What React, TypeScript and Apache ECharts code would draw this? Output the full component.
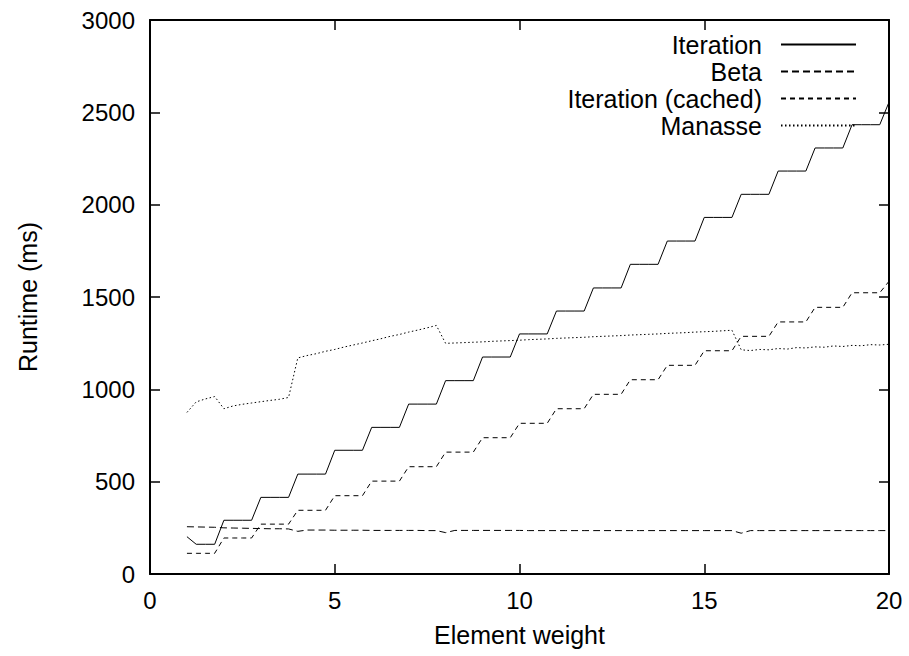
import React, { useEffect, useRef } from "react";
import * as echarts from "echarts";

const weights = [
  1, 1.25, 1.5, 1.75, 2, 2.25, 2.5, 2.75, 3, 3.25, 3.5, 3.75,
  4, 4.25, 4.5, 4.75, 5, 5.25, 5.5, 5.75, 6, 6.25, 6.5, 6.75,
  7, 7.25, 7.5, 7.75, 8, 8.25, 8.5, 8.75, 9, 9.25, 9.5, 9.75,
  10, 10.25, 10.5, 10.75, 11, 11.25, 11.5, 11.75, 12, 12.25, 12.5, 12.75,
  13, 13.25, 13.5, 13.75, 14, 14.25, 14.5, 14.75, 15, 15.25, 15.5, 15.75,
  16, 16.25, 16.5, 16.75, 17, 17.25, 17.5, 17.75, 18, 18.25, 18.5, 18.75,
  19, 19.25, 19.5, 19.75, 20,
];

const iteration = [
  202, 161, 161, 161, 291, 291, 291, 291, 415, 415, 415, 415,
  541, 541, 541, 541, 670, 670, 670, 670, 794, 794, 794, 794,
  920, 920, 920, 920, 1047, 1047, 1047, 1047, 1175, 1175, 1175, 1175,
  1300, 1300, 1300, 1300, 1424, 1424, 1424, 1424, 1549, 1549, 1549, 1549,
  1677, 1677, 1677, 1677, 1803, 1803, 1803, 1803, 1931, 1931, 1931, 1931,
  2056, 2056, 2056, 2056, 2182, 2182, 2182, 2182, 2307, 2307, 2307, 2307,
  2433, 2433, 2433, 2433, 2555,
];

const beta = [
  256, 255, 254, 253, 250, 249, 248, 247, 246, 245, 245, 244,
  231, 238, 238, 238, 237, 237, 237, 237, 236, 236, 236, 236,
  236, 236, 235, 235, 224, 236, 236, 236, 236, 236, 236, 236,
  236, 235, 235, 235, 235, 235, 235, 235, 235, 235, 235, 235,
  235, 235, 235, 235, 235, 235, 235, 235, 235, 235, 235, 235,
  221, 235, 235, 235, 235, 235, 235, 235, 235, 235, 235, 235,
  235, 235, 235, 235, 235,
];

const iterationCached = [
  112, 112, 112, 112, 195, 195, 195, 195, 270, 270, 270, 270,
  345, 345, 345, 345, 424, 424, 424, 424, 503, 503, 503, 503,
  581, 581, 581, 581, 660, 660, 660, 660, 738, 738, 738, 738,
  816, 816, 816, 816, 895, 895, 895, 895, 973, 973, 973, 973,
  1052, 1052, 1052, 1052, 1130, 1130, 1130, 1130, 1209, 1209, 1209, 1209,
  1287, 1287, 1287, 1287, 1365, 1365, 1365, 1365, 1444, 1444, 1444, 1444,
  1523, 1523, 1523, 1523, 1585,
];

const manasse = [
  875, 932, 948, 961, 895, 910, 919, 926, 933, 940, 946, 956,
  1170, 1183, 1193, 1206, 1216, 1229, 1240, 1251, 1263, 1274, 1287, 1297,
  1310, 1321, 1333, 1346, 1249, 1251, 1253, 1255, 1257, 1260, 1262, 1264,
  1266, 1269, 1271, 1273, 1276, 1278, 1280, 1282, 1285, 1287, 1289, 1291,
  1294, 1296, 1298, 1300, 1303, 1305, 1307, 1310, 1312, 1314, 1317, 1320,
  1214, 1210, 1216, 1214, 1221, 1218, 1226, 1224, 1230, 1228, 1235, 1232,
  1238, 1236, 1242, 1240, 1244,
];

const seriesNames = ["Iteration", "Beta", "Iteration (cached)", "Manasse"];
const seriesValues = [iteration, beta, iterationCached, manasse];
const seriesDash: (string | number[])[] = ["solid", [7, 4], [5, 4], [1.5, 2.5]];

const xTicks = { min: 0, max: 20, interval: 5 };
const yTicks = { min: 0, max: 3000, interval: 500 };

const FONT = "Liberation Sans, Arial, Helvetica, sans-serif";
const TICK_FS = 24;
const NAME_FS = 25;
const LEGEND_FS = 25;

export default function App() {
  const ref = useRef<HTMLDivElement>(null);

  useEffect(() => {
    if (!ref.current) return;
    const chart = echarts.init(ref.current, null, { renderer: "svg" });

    const tick = { inside: true, length: 10, lineStyle: { color: "#000", width: 1.5 } };
    const line = { show: true, onZero: false, lineStyle: { color: "#000", width: 2 } };
    const label = {
      color: "#000",
      fontSize: TICK_FS,
      fontFamily: FONT,
      formatter: (v: number) => String(v),
    };
    const nameStyle = { color: "#000", fontSize: NAME_FS, fontFamily: FONT };

    chart.setOption({
      animation: false,
      backgroundColor: "#fff",
      grid: { left: 150, right: 20, top: 20, bottom: 82, containLabel: false },
      legend: {
        orient: "vertical",
        align: "right",
        right: 52,
        top: 31,
        padding: 0,
        itemGap: 0,
        itemWidth: 75,
        itemHeight: 14,
        data: seriesNames,
        itemStyle: { opacity: 0, color: "transparent", borderColor: "transparent", borderWidth: 0 },
        textStyle: {
          color: "#000",
          fontSize: LEGEND_FS,
          fontFamily: FONT,
          lineHeight: 27,
          padding: [0, 14, 0, 0],
        },
      },
      xAxis: [
        {
          type: "value",
          position: "bottom",
          ...xTicks,
          axisLine: line,
          axisTick: tick,
          axisLabel: { ...label, margin: 14 },
          splitLine: { show: false },
          name: "Element weight",
          nameLocation: "middle",
          nameGap: 48,
          nameTextStyle: nameStyle,
        },
        {
          type: "value",
          position: "top",
          ...xTicks,
          axisLine: line,
          axisTick: tick,
          axisLabel: { show: false },
          splitLine: { show: false },
        },
      ],
      yAxis: [
        {
          type: "value",
          position: "left",
          ...yTicks,
          axisLine: line,
          axisTick: tick,
          axisLabel: { ...label, margin: 15 },
          splitLine: { show: false },
          name: "Runtime (ms)",
          nameLocation: "middle",
          nameGap: 110,
          nameTextStyle: nameStyle,
        },
        {
          type: "value",
          position: "right",
          ...yTicks,
          axisLine: line,
          axisTick: tick,
          axisLabel: { show: false },
          splitLine: { show: false },
        },
      ],
      series: seriesNames.map((name, si) => ({
        name,
        type: "line",
        xAxisIndex: 0,
        yAxisIndex: 0,
        symbol: "none",
        showSymbol: false,
        data: weights.map((w, i) => [w, seriesValues[si][i]]),
        lineStyle: { color: "#000", width: 1, type: seriesDash[si] },
        itemStyle: { color: "#000" },
      })),
    });

    return () => chart.dispose();
  }, []);

  return (
    <div
      ref={ref}
      style={{ position: "absolute", left: 0, top: 0, width: 909, height: 656, background: "#fff" }}
    />
  );
}
